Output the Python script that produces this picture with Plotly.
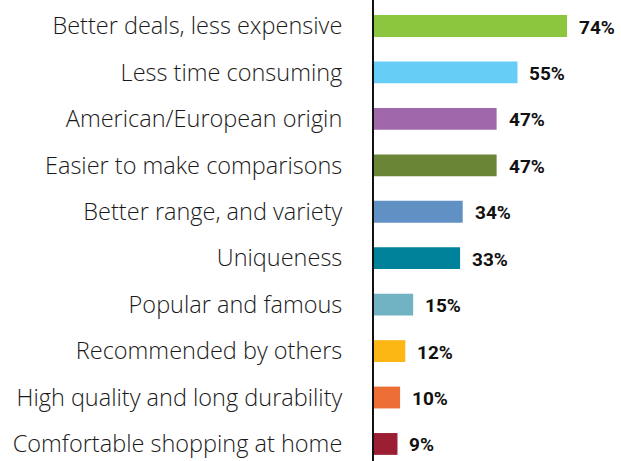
import plotly.graph_objects as go

categories = [
    "Better deals, less expensive",
    "Less time consuming",
    "American/European origin",
    "Easier to make comparisons",
    "Better range, and variety",
    "Uniqueness",
    "Popular and famous",
    "Recommended by others",
    "High quality and long durability",
    "Comfortable shopping at home",
]
values = [74, 55, 47, 47, 34, 33, 15, 12, 10, 9]
value_labels = ["74%", "55%", "47%", "47%", "34%", "33%", "15%", "12%", "10%", "9%"]
colors = ["#8CC63F", "#66CEF6", "#A067AB", "#6A8535", "#6190C4",
          "#00829B", "#71B3C3", "#FDB714", "#EC6E35", "#9C1E33"]

fig = go.Figure(go.Bar(
    x=values, y=categories, orientation="h",
    marker=dict(color=colors, line=dict(width=0)),
    hoverinfo="skip",
))

for c, v, t in zip(categories, values, value_labels):
    fig.add_annotation(x=v, y=c, text=t, showarrow=False,
                       xanchor="left", yanchor="middle", xshift=10, yshift=-1,
                       font=dict(family="Roboto, Liberation Sans, sans-serif",
                                 size=19, color="#111111", weight="bold"))

fig.update_layout(
    width=621, height=461,
    margin=dict(l=374, r=7, t=0, b=0, autoexpand=False),
    paper_bgcolor="white", plot_bgcolor="white",
    bargap=0.53,
    showlegend=False,
    xaxis=dict(range=[0, 92], visible=False, showgrid=False, zeroline=False,
               automargin=False),
    yaxis=dict(
        type="category",
        range=[9.367, -0.56],
        automargin=False,
        showline=True, linecolor="#111111", linewidth=2,
        showgrid=False, zeroline=False, ticks="",
        ticklabelstandoff=25,
        tickfont=dict(family="Open Sans, Liberation Sans, sans-serif", size=23.5,
                      color="#1a1a1a", weight=300),
    ),
)

fig.write_html("out.html", config={"displayModeBar": False},
               post_script="document.body.style.margin='0';document.body.style.padding='0';")
